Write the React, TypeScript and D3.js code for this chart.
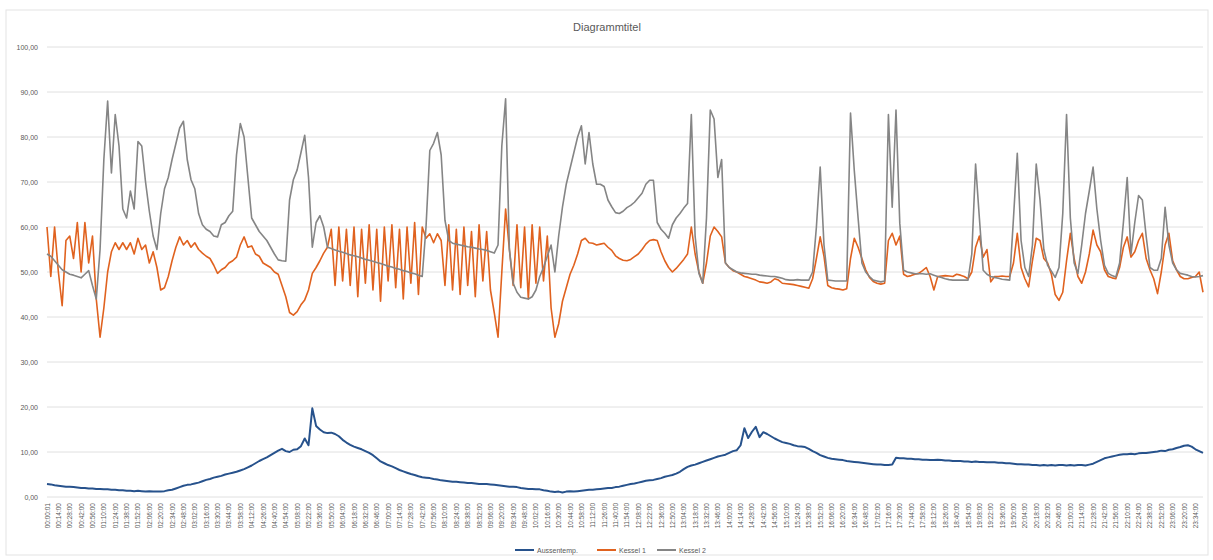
import React from "react";
import * as d3 from "d3";

const title = "Diagrammtitel";
const seriesNames = ["Aussentemp.", "Kessel 1", "Kessel 2"];
const seriesColors = ["#27528c", "#e0621f", "#858585"];
const yTicks = [0, 10, 20, 30, 40, 50, 60, 70, 80, 90, 100];

const tickLabels = [
  "00:00:01","00:14:00","00:28:00","00:42:00","00:56:00","01:10:00","01:24:00","01:38:00","01:52:00","02:06:00",
  "02:20:00","02:34:00","02:48:00","03:02:00","03:16:00","03:30:00","03:44:00","03:58:00","04:12:00","04:26:00",
  "04:40:00","04:54:00","05:08:00","05:22:00","05:36:00","05:50:00","06:04:00","06:18:00","06:32:00","06:46:00",
  "07:00:00","07:14:00","07:28:00","07:42:00","07:56:00","08:10:00","08:24:00","08:38:00","08:52:00","09:06:00",
  "09:20:00","09:34:00","09:48:00","10:02:00","10:16:00","10:30:00","10:44:00","10:58:00","11:12:00","11:26:00",
  "11:40:00","11:54:00","12:08:00","12:22:00","12:36:00","12:50:00","13:04:00","13:18:00","13:32:00","13:46:00",
  "14:00:00","14:14:00","14:28:00","14:42:00","14:56:00","15:10:00","15:24:00","15:38:00","15:52:00","16:06:00",
  "16:20:00","16:34:00","16:48:00","17:02:00","17:16:00","17:30:00","17:44:00","17:58:00","18:12:00","18:26:00",
  "18:40:00","18:54:00","19:08:00","19:22:00","19:36:00","19:50:00","20:04:00","20:18:00","20:32:00","20:46:00",
  "21:00:00","21:14:00","21:28:00","21:42:00","21:56:00","22:10:00","22:24:00","22:38:00","22:52:00","23:06:00",
  "23:20:00","23:34:00"
];

const aussentemp = [
  2.9,2.8,2.6,2.5,2.4,2.3,2.3,2.2,2.1,2.0,
  2.0,1.9,1.9,1.8,1.8,1.7,1.7,1.6,1.6,1.5,
  1.5,1.4,1.4,1.3,1.4,1.3,1.2,1.3,1.2,1.2,
  1.2,1.3,1.5,1.6,1.9,2.2,2.5,2.7,2.8,3.0,
  3.2,3.5,3.8,4.0,4.3,4.5,4.7,5.0,5.2,5.4,
  5.6,5.9,6.2,6.6,7.0,7.5,8.0,8.4,8.8,9.3,
  9.8,10.3,10.7,10.2,10.0,10.5,10.6,11.3,13.0,11.5,
  19.7,15.8,15.0,14.4,14.2,14.3,14.0,13.5,12.7,12.1,
  11.6,11.2,10.9,10.6,10.2,9.8,9.3,8.6,7.9,7.5,
  7.1,6.8,6.4,6.0,5.7,5.4,5.1,4.9,4.6,4.4,
  4.3,4.2,4.0,3.9,3.7,3.6,3.5,3.4,3.4,3.3,
  3.2,3.1,3.1,3.0,2.9,2.9,2.9,2.8,2.7,2.6,
  2.5,2.4,2.3,2.3,2.2,2.0,1.9,1.8,1.8,1.7,
  1.7,1.5,1.4,1.2,1.1,1.2,1.0,1.2,1.3,1.2,
  1.3,1.4,1.5,1.6,1.6,1.7,1.8,1.9,2.0,2.0,
  2.2,2.3,2.5,2.7,2.9,3.0,3.2,3.4,3.6,3.7,
  3.8,4.0,4.2,4.5,4.7,4.9,5.2,5.6,6.2,6.7,
  7.0,7.2,7.5,7.8,8.1,8.4,8.7,9.0,9.2,9.4,
  9.8,10.2,10.4,11.5,15.3,13.1,14.5,15.6,13.3,14.4,
  14.0,13.5,13.0,12.6,12.2,12.0,11.8,11.5,11.3,11.2,
  11.1,10.7,10.2,9.8,9.3,9.0,8.7,8.5,8.4,8.3,
  8.2,8.0,7.9,7.8,7.7,7.6,7.5,7.4,7.3,7.2,
  7.2,7.1,7.1,7.2,8.7,8.6,8.6,8.5,8.5,8.4,
  8.4,8.3,8.3,8.2,8.2,8.3,8.2,8.1,8.1,8.0,
  8.0,8.0,7.9,7.9,7.8,7.9,7.8,7.8,7.7,7.7,
  7.7,7.6,7.6,7.5,7.5,7.4,7.3,7.3,7.2,7.2,
  7.1,7.1,7.0,7.1,7.0,7.1,7.0,7.1,7.1,7.0,
  7.1,7.0,7.1,7.1,7.0,7.2,7.4,7.8,8.2,8.6,
  8.8,9.0,9.2,9.4,9.5,9.5,9.6,9.5,9.7,9.8,
  9.8,9.9,10.0,10.1,10.3,10.2,10.5,10.6,10.9,11.1,
  11.4,11.5,11.2,10.6,10.2,9.8
];

const kessel1 = [
  60,49,60,50,42.5,57,58,53,61,50,
  61,52,58,44,35.5,42,50,54.5,56.5,55,
  56.5,55,56.5,54,57.5,55,56,52,54.5,51,
  46,46.5,49,52.5,55.5,57.8,56,57,55.5,56.5,
  55,54.2,53.5,53,51.5,49.7,50.5,51,52,52.5,
  53.3,56,57.8,55.5,55.8,54,53.5,52,51.5,51,
  50,49.5,47,44.5,41,40.4,41.2,42.7,43.8,46,
  49.7,51,52.5,54.2,55.5,59.5,47,60,48,59.5,
  47,60,44.5,59.5,47.5,60.5,46,59.5,43.5,60,
  48,60.5,46.5,59.5,44,60,47.5,61,45,60,
  57.5,58.5,56.5,58.5,57,47,60.5,46,59.5,45,
  60,47,59,44.5,60.5,48,59,46,41,35.5,
  50,64,55,47,60.5,46.5,60,44,60.5,47.5,
  60,48,58,42,35.5,38.5,43.5,46.5,49.5,51.5,
  54,57,57.5,56.5,56.4,56,56.2,56.4,55.5,54.8,
  53.6,53,52.6,52.5,52.8,53.4,54,55,56.2,57,
  57.2,57,54.5,52.5,51,50,50.8,51.8,52.8,54,
  60,54,50,47.5,52,58,60,59,57.8,52,
  51,50.3,50,49.5,49,48.8,48.5,48.2,47.8,47.7,
  47.5,47.8,48.5,48.2,47.5,47.4,47.3,47.2,47,46.8,
  46.6,46.4,48.5,53,57.8,53.5,47,46.5,46.3,46.2,
  46,46.3,53,57.5,55.5,53,50.5,48.8,47.9,47.5,
  47.3,47.5,57,58.6,56,58,49.5,49,49.2,49.5,
  49.7,50.3,51,49,46,49,49.1,49.2,49.1,49,
  49.5,49.3,49,48.5,50,55.5,58,53.3,55,47.8,
  49,49,49.1,49,49,52,58.6,51,48.5,46.7,
  52.5,57.5,57,53,52,49.5,45,43.7,45.5,52.5,
  58.6,53,49,47.5,50,54,59.3,56,54.5,50.5,
  49,48.7,48.5,51,55.5,57.8,53.3,54.5,57,58.6,
  53,50.5,48.5,45.2,50,56,58.6,52.5,50.5,49,
  48.5,48.5,48.8,49,50,45.5
];

const kessel2 = [
  54,53.5,52.5,51.5,50.5,50,49.5,49.3,49,48.7,
  49.5,50.3,47,44,55,75,88,72,85,78,
  64,62,68,64,79,78,70,63.5,58,55,
  63,68.5,71,75,78.5,82,83.5,75,70.5,68.5,
  63,60.5,59.5,59,58,57.8,60.5,61,62.5,63.5,
  76,83,80,71,62,60.5,59,58,57,55.5,
  54,52.7,52.5,52.4,66,70.5,72.7,76.5,80.4,71,
  55.5,61,62.5,60,55.5,55.2,54.9,54.6,54.4,54.1,
  53.8,53.6,53.4,53.1,52.8,52.6,52.4,52.1,51.9,51.6,
  51.3,51.1,50.8,50.6,50.3,50.1,49.8,49.6,49.3,49,
  60,77,78.6,81,76,61.5,57,56.4,56.2,56,
  55.8,55.6,55.5,55.3,55.1,55,54.8,54.5,54.2,56,
  78,88.5,55,47.5,45.5,44.4,44.2,44,44.5,46,
  49,51,53.5,56,50,58,64.4,69.5,73,76.5,
  80,82.5,74,81,74,69.5,69.5,69,66,64.5,
  63.2,63,63.5,64.3,64.8,65.5,66.5,67.5,69.5,70.4,
  70.4,61,59.5,58.6,57.5,60.5,62,63,64.2,65.2,
  85,58,49.7,47.5,62,86,84,71,75,52,
  51,50.5,50,49.8,49.7,49.6,49.5,49.5,49.3,49.2,
  49.1,49,49,48.8,48.6,48.3,48.2,48.2,48.3,48.2,
  48.2,48.2,50,60,73.3,56,48.2,48.1,48,48,
  48,48,85.3,72.5,62,52,50,49,48.2,48,
  47.8,48,85,64.4,86,60.8,50.4,50,49.8,49.6,
  49.6,49.6,49.5,49.6,49.3,49,48.8,48.5,48.3,48.2,
  48.2,48.2,48.2,48.2,54,74,62,50.4,49.5,49,
  48.8,48.6,48.4,48.3,48.2,62,76.4,57,51,49,
  56,74,66,55,51.5,50.2,48.8,51,63,85,
  62,52,49.7,56,63,68,73.3,64,57,51.5,
  49.7,49.2,48.9,52,61,71,54,61,67,66,
  58,51,50.4,50.4,53,64.4,56,52,50.5,49.7,
  49.5,49.3,49,48.9,49,49.2
];

const seriesValues = [aussentemp, kessel1, kessel2];

export default function App() {
  const W = 1213, H = 560;
  const plotLeft = 47, plotRight = 1203, plotTop = 47, plotBottom = 497;
  const n = kessel1.length;
  const idx = d3.range(n);
  const x = d3.scalePoint<number>().domain(idx).range([plotLeft, plotRight]);
  const y = d3.scaleLinear().domain([0, 100]).range([plotBottom, plotTop]);
  const line = d3.line<number>().x((_, i) => x(i) as number).y((v) => y(v));
  const fmt = (v: number) => v.toFixed(2).replace(".", ",");
  const tickIdx = tickLabels.map((_, k) => k * 3);
  const textColor = "#595959";
  const font = "'Liberation Sans', Arial, sans-serif";

  const legendItems = [
    { name: seriesNames[0], color: seriesColors[0], x: 515 },
    { name: seriesNames[1], color: seriesColors[1], x: 597 },
    { name: seriesNames[2], color: seriesColors[2], x: 657 },
  ];

  return (
    <svg width={W} height={H} style={{ position: "absolute", left: 0, top: 0, background: "#fff" }} fontFamily={font}>
      <rect x={6} y={10} width={1202} height={545} fill="#fff" stroke="#e3e3e3" />
      <text x={607} y={31} textAnchor="middle" fontSize={11} fill={textColor}>{title}</text>
      {yTicks.map((t) => (
        <g key={t}>
          <line x1={plotLeft} x2={plotRight} y1={y(t)} y2={y(t)} stroke="#e0e0e0" strokeWidth={1} />
          <text x={38} y={y(t) + 2.5} textAnchor="end" fontSize={7} fill={textColor}>{fmt(t)}</text>
        </g>
      ))}
      {tickIdx.map((ti, k) => (
        <text key={ti} transform={`translate(${(x(ti) as number) + 2.5},${plotBottom + 6}) rotate(-90)`}
          textAnchor="end" fontSize={6.5} fill={textColor}>{tickLabels[k]}</text>
      ))}
      {seriesValues.map((vals, s) => (
        <path key={s} d={line(vals) || ""} fill="none" stroke={seriesColors[s]}
          strokeWidth={s === 0 ? 2 : 1.6} strokeLinejoin="round" />
      ))}
      {legendItems.map((it) => (
        <g key={it.name}>
          <line x1={it.x} x2={it.x + 19} y1={550} y2={550} stroke={it.color} strokeWidth={2} />
          <text x={it.x + 22} y={552.5} fontSize={7} fill={textColor}>{it.name}</text>
        </g>
      ))}
    </svg>
  );
}
